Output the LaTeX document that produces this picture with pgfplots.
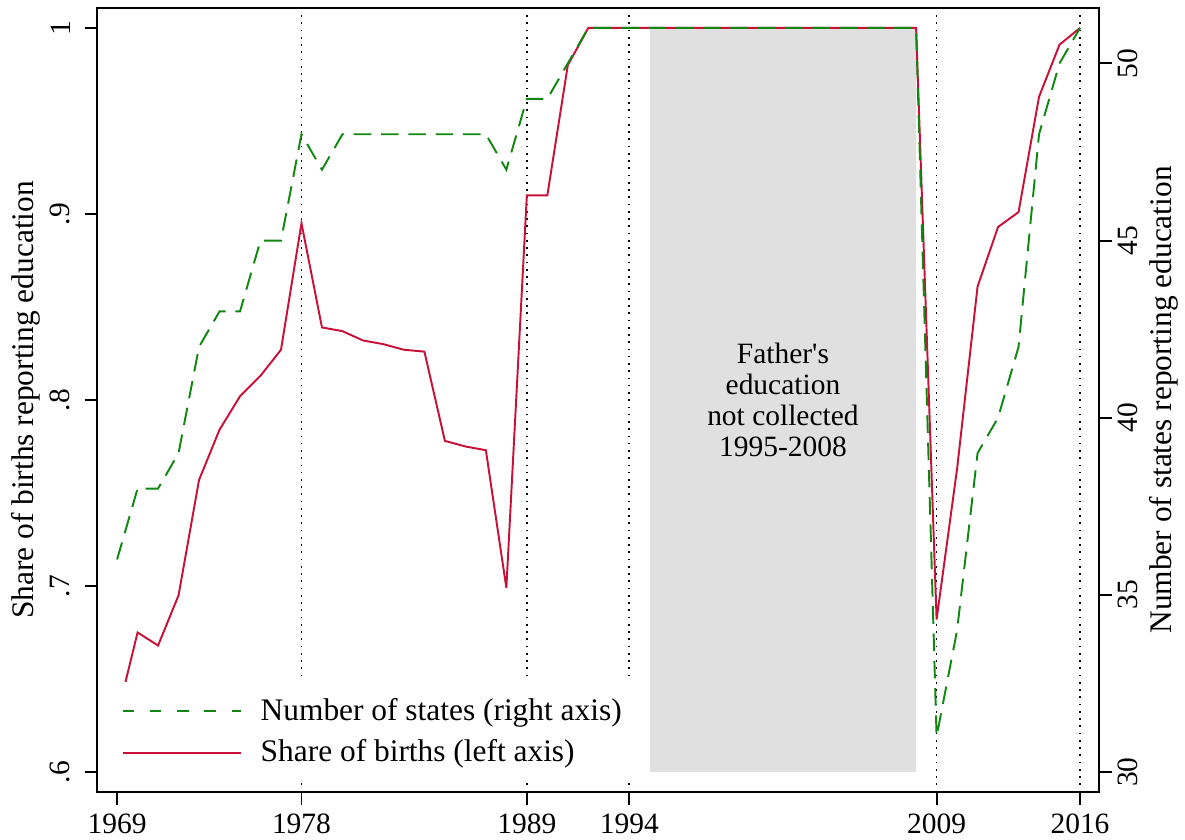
\documentclass[border=0pt]{standalone}
\usepackage{fontspec}
\setmainfont{Liberation Serif}
\usepackage{pgfplots}
\usepackage{pgfplotstable}
\pgfplotsset{compat=1.18}
\definecolor{sred}{RGB}{200,16,56}
\definecolor{sgreen}{RGB}{16,135,16}
\definecolor{sgray}{RGB}{224,224,224}

\pgfplotstableread{
year share
1969 0.630
1970 0.675
1971 0.668
1972 0.695
1973 0.757
1974 0.784
1975 0.802
1976 0.813
1977 0.827
1978 0.895
1979 0.839
1980 0.837
1981 0.832
1982 0.830
1983 0.827
1984 0.826
1985 0.778
1986 0.775
1987 0.773
1988 0.699
1989 0.910
1990 0.910
1991 0.980
1992 1.000
1993 1.000
1994 1.000
1995 1.000
1996 1.000
1997 1.000
1998 1.000
1999 1.000
2000 1.000
2001 1.000
2002 1.000
2003 1.000
2004 1.000
2005 1.000
2006 1.000
2007 1.000
2008 1.000
2009 0.682
2010 0.763
2011 0.861
2012 0.893
2013 0.901
2014 0.963
2015 0.991
2016 1.000
}\sharetable

\pgfplotstableread{
year states
1969 36
1970 38
1971 38
1972 39
1973 42
1974 43
1975 43
1976 45
1977 45
1978 48
1979 47
1980 48
1981 48
1982 48
1983 48
1984 48
1985 48
1986 48
1987 48
1988 47
1989 49
1990 49
1991 50
1992 51
1993 51
1994 51
1995 51
1996 51
1997 51
1998 51
1999 51
2000 51
2001 51
2002 51
2003 51
2004 51
2005 51
2006 51
2007 51
2008 51
2009 31
2010 34
2011 39
2012 40
2013 42
2014 48
2015 50
2016 51
}\statestable

\begin{document}
\begin{tikzpicture}
\pgfplotsset{
  every axis/.append style={
    scale only axis, width=414.8pt, height=324.6pt,
    xmin=1968.024, xmax=2016.927,
    axis line style={line width=0.8pt, black},
    tick style={line width=0.8pt, black},
    tick align=outside, major tick length=5.2pt,
    /pgf/number format/assume math mode=true,
    tick label style={font=\fontsize{12.2}{14}\selectfont},
    label style={font=\fontsize{13}{15}\selectfont},
  }
}
\begin{axis}[
  ymin=0.58925, ymax=1.01075,
  xtick={1969,1978,1989,1994,2009,2016},
  xticklabels={1969,1978,1989,1994,2009,2016},
  ytick={0.6,0.7,0.8,0.9,1},
  yticklabels={.6,.7,.8,.9,1},
  xtick pos=left, ytick pos=left,
  yticklabel style={rotate=90, anchor=south, inner sep=0pt},
  yticklabel shift=5.8pt,
  xticklabel style={anchor=north, inner sep=0pt},
  xticklabel shift=3.7pt,
  ylabel={Share of births reporting education},
  ylabel style={at={(axis description cs:-0.0637,0.5)}, anchor=base},
]
\addplot[fill=sgray, draw=none] coordinates {(1995,0.6) (2008,0.6) (2008,1) (1995,1) (1995,0.6)};
\addplot[black, line width=0.7pt, dash pattern=on 0.7pt off 2.3pt] coordinates {(1978,0.593) (1978,1.007)};
\addplot[black, line width=0.7pt, dash pattern=on 0.7pt off 2.3pt] coordinates {(1989,0.593) (1989,1.007)};
\addplot[black, line width=0.7pt, dash pattern=on 0.7pt off 2.3pt] coordinates {(1994,0.593) (1994,1.007)};
\addplot[black, line width=0.7pt, dash pattern=on 0.7pt off 2.3pt] coordinates {(2009,0.593) (2009,1.007)};
\addplot[black, line width=0.7pt, dash pattern=on 0.7pt off 2.3pt] coordinates {(2016,0.593) (2016,1.007)};
\addplot[sred, line width=0.8pt] table[x=year, y=share] {\sharetable};
\node[align=center, font=\fontsize{12.2}{12.9}\selectfont] at (axis cs:2001.5,0.8)
  {Father\textquotesingle s\\education\\not collected\\1995-2008};
\end{axis}

\begin{axis}[
  ymin=29.436, ymax=51.564,
  axis x line=none,
  axis y line*=right,
  ytick={30,35,40,45,50},
  yticklabels={30,35,40,45,50},
  yticklabel style={rotate=90, anchor=north, inner sep=0pt},
  yticklabel shift=2.6pt,
  ylabel={Number of states reporting education},
  ylabel style={at={(axis description cs:1.0719,0.5)}, anchor=base},
  legend style={at={(axis description cs:0.0095,0.0115)}, anchor=south west,
    draw=none, fill=white, inner xsep=6pt, inner ysep=6pt,
    row sep=4.5pt, column sep=6.9pt,
    font=\fontsize{13}{15}\selectfont, nodes={inner sep=1pt}},
  legend cell align=left,
  legend image code/.code={\draw[#1] (0pt,0pt) -- (48.9pt,0pt);},
]
\addplot[sgreen, line width=0.8pt, dash pattern=on 7.3pt off 4pt, forget plot] table[x=year, y=states] {\statestable};
\addlegendimage{sgreen, line width=0.8pt, dash pattern=on 4.8pt off 6.5pt}
\addlegendentry{Number of states (right axis)}
\addlegendimage{sred, line width=0.8pt}
\addlegendentry{Share of births (left axis)}
\end{axis}
\pgfresetboundingbox
\path[use as bounding box] (-40.2pt,-19.5pt) rectangle (450.4pt,327.9pt);
\end{tikzpicture}
\end{document}
